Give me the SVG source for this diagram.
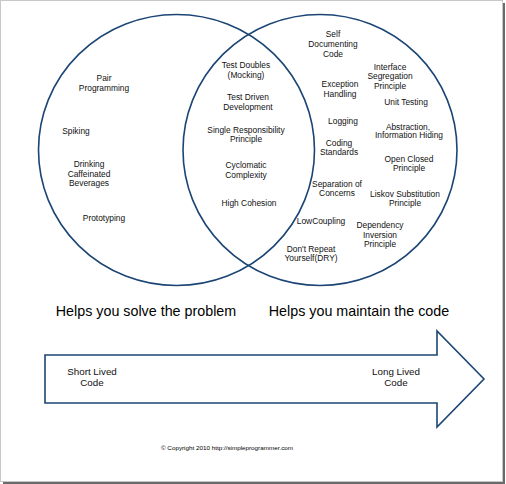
<svg xmlns="http://www.w3.org/2000/svg" width="506" height="484" viewBox="0 0 506 484">
<style>
.c{fill:none;stroke:#1b4574;stroke-width:1.6}
.t{font-family:"Liberation Sans",Arial,sans-serif;font-size:8.4px;fill:#111;text-anchor:middle}
.a{font-family:"Liberation Sans",Arial,sans-serif;font-size:9.8px;fill:#111;text-anchor:middle}
.h{font-family:"Liberation Sans",Arial,sans-serif;font-size:14.3px;fill:#000;text-anchor:middle}
</style>
<rect x="0" y="0" width="506" height="484" fill="#fff"/>
<g id="frame">
<rect x="0.5" y="0.5" width="502" height="481" fill="#fff" stroke="#c8c8c8" stroke-width="1"/>
<rect x="503" y="3" width="2" height="481" fill="#6a6a6a"/>
<rect x="3" y="482" width="502" height="2" fill="#6a6a6a"/>
</g>
<g id="circles">
<ellipse id="left-circle" class="c" cx="176.5" cy="150" rx="138" ry="135.5"/>
<ellipse id="right-circle" class="c" cx="320" cy="150" rx="137" ry="135.5"/>
</g>
<g id="left-items">
<text class="t" x="104" y="81">Pair</text>
<text class="t" x="104" y="91">Programming</text>
<text class="t" x="76" y="134">Spiking</text>
<text class="t" x="89" y="166.5">Drinking</text>
<text class="t" x="89" y="176.5">Caffeinated</text>
<text class="t" x="89" y="185.5">Beverages</text>
<text class="t" x="104" y="221">Prototyping</text>
</g>
<g id="middle-items">
<text class="t" x="246" y="68">Test Doubles</text>
<text class="t" x="246" y="78">(Mocking)</text>
<text class="t" x="248" y="100">Test Driven</text>
<text class="t" x="248" y="110">Development</text>
<text class="t" x="246" y="132.5">Single Responsibility</text>
<text class="t" x="246" y="142">Principle</text>
<text class="t" x="246" y="168">Cyclomatic</text>
<text class="t" x="246" y="178">Complexity</text>
<text class="t" x="249" y="205.5">High Cohesion</text>
</g>
<g id="right-items">
<text class="t" x="333" y="37">Self</text>
<text class="t" x="333" y="47">Documenting</text>
<text class="t" x="333" y="56.5">Code</text>
<text class="t" x="390" y="69.5">Interface</text>
<text class="t" x="390" y="79">Segregation</text>
<text class="t" x="390" y="89">Principle</text>
<text class="t" x="340" y="87">Exception</text>
<text class="t" x="340" y="97">Handling</text>
<text class="t" x="406" y="105">Unit Testing</text>
<text class="t" x="343" y="124">Logging</text>
<text class="t" x="408" y="129.5">Abstraction,</text>
<text class="t" x="409" y="138">Information Hiding</text>
<text class="t" x="339" y="146">Coding</text>
<text class="t" x="339" y="155">Standards</text>
<text class="t" x="409" y="161.5">Open Closed</text>
<text class="t" x="409" y="171">Principle</text>
<text class="t" x="337" y="187">Separation of</text>
<text class="t" x="337" y="196">Concerns</text>
<text class="t" x="405" y="196.5">Liskov Substitution</text>
<text class="t" x="405" y="206">Principle</text>
<text class="t" x="321" y="224">LowCoupling</text>
<text class="t" x="380" y="228">Dependency</text>
<text class="t" x="380" y="237.5">Inversion</text>
<text class="t" x="380" y="247">Principle</text>
<text class="t" x="311" y="251.5">Don't Repeat</text>
<text class="t" x="311" y="261">Yourself(DRY)</text>
</g>
<g id="headings">
<text class="h" x="146" y="316">Helps you solve the problem</text>
<text class="h" x="359" y="316">Helps you maintain the code</text>
</g>
<g id="arrow">
<path d="M45,355 H437 V331 L484,379 L437,427 V403 H45 Z" fill="#fff" stroke="#1b4574" stroke-width="1.6" stroke-linejoin="miter"/>
<text class="a" x="92" y="374.5">Short Lived</text>
<text class="a" x="92" y="386">Code</text>
<text class="a" x="396" y="374.5">Long Lived</text>
<text class="a" x="396" y="386">Code</text>
</g>
<text x="227" y="450" font-family="Liberation Sans,Arial,sans-serif" font-size="5.6" text-anchor="middle" textLength="132" lengthAdjust="spacingAndGlyphs" fill="#000">© Copyright 2010 http://simpleprogrammer.com</text>
</svg>
